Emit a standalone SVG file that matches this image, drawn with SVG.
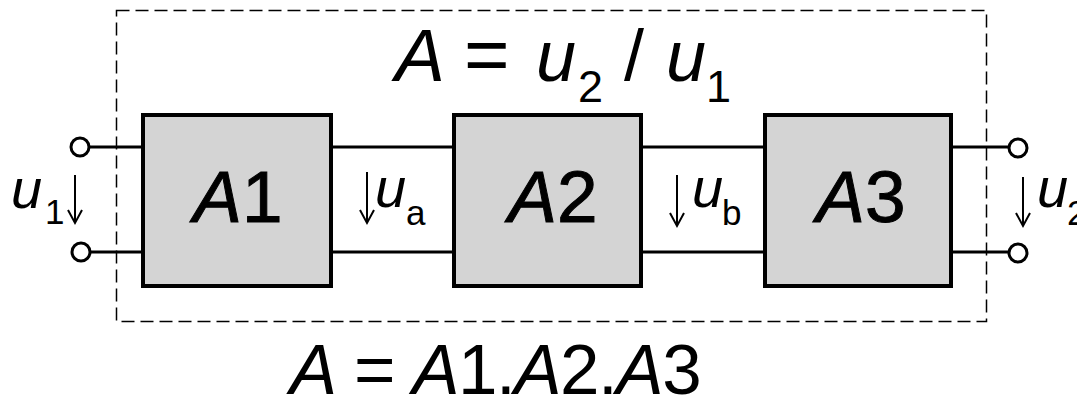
<svg xmlns="http://www.w3.org/2000/svg" width="1077" height="398" viewBox="0 0 1077 398">
<defs>
<style>
.t{font-family:"Liberation Sans",Arial,sans-serif;fill:#000}
.i{font-style:italic}
.blk{fill:#d4d4d4;stroke:#000;stroke-width:4}
.lbl{font-family:"Liberation Sans",Arial,sans-serif;font-size:73px;fill:#000;stroke:#000;stroke-width:1}
.w{stroke:#000;stroke-width:3;fill:none}
.term{fill:#fff;stroke:#000;stroke-width:3}
.arr{stroke:#000;stroke-width:2;fill:none}
</style>
</defs>
<rect width="1077" height="398" fill="#fff"/>
<rect id="boundary" x="116.5" y="10.5" width="870" height="311" fill="none" stroke="#000" stroke-width="1.5" stroke-dasharray="13 6"/>
<g id="connectors">
<line class="w" x1="89" y1="147" x2="143" y2="147"/>
<line class="w" x1="89" y1="252" x2="143" y2="252"/>
<line class="w" x1="331" y1="147" x2="454" y2="147"/>
<line class="w" x1="331" y1="252" x2="454" y2="252"/>
<line class="w" x1="641" y1="147" x2="765" y2="147"/>
<line class="w" x1="641" y1="252" x2="765" y2="252"/>
<line class="w" x1="951" y1="147" x2="1009" y2="147"/>
<line class="w" x1="951" y1="252" x2="1009" y2="252"/>
</g>
<g id="A1">
<rect class="blk" x="143" y="115" width="188" height="171"/>
<text class="lbl" x="238" y="222" text-anchor="middle"><tspan class="i">A</tspan>1</text>
</g>
<g id="A2">
<rect class="blk" x="454" y="115" width="187" height="171"/>
<text class="lbl" x="553" y="222" text-anchor="middle"><tspan class="i">A</tspan>2</text>
</g>
<g id="A3">
<rect class="blk" x="765" y="115" width="186" height="171"/>
<text class="lbl" x="861" y="222" text-anchor="middle"><tspan class="i">A</tspan>3</text>
</g>
<g id="in-terminals">
<circle class="term" cx="80" cy="147" r="9"/>
<circle class="term" cx="81" cy="252" r="9"/>
</g>
<g id="out-terminals">
<circle class="term" cx="1018" cy="148" r="9"/>
<circle class="term" cx="1018" cy="253" r="9"/>
</g>
<g id="voltages">
<path class="arr" d="M75 175V223M68 210L75 223L82 210"/>
<text class="t" font-size="56"><tspan class="i" x="11" y="208">u</tspan><tspan x="45" y="224" font-size="35">1</tspan></text>
<path class="arr" d="M367 172V223M360 210L367 223L374 210"/>
<text class="t" font-size="56"><tspan class="i" x="375" y="207">u</tspan><tspan x="406" y="225" font-size="35">a</tspan></text>
<path class="arr" d="M677 175V226M670 213L677 226L684 213"/>
<text class="t" font-size="56"><tspan class="i" x="692" y="207">u</tspan><tspan x="722" y="225" font-size="35">b</tspan></text>
<path class="arr" d="M1023 177V226M1016 213L1023 226L1030 213"/>
<text class="t" font-size="56"><tspan class="i" x="1037" y="207">u</tspan><tspan x="1067" y="225" font-size="35">2</tspan></text>
</g>
<g id="formula-top">
<text class="t" font-size="72"><tspan class="i" x="395" y="81" font-size="75">A</tspan><tspan x="464" y="81" font-size="78">=</tspan><tspan class="i" x="536" y="81">u</tspan><tspan x="578" y="102" font-size="45">2</tspan><tspan x="624" y="80">/</tspan><tspan class="i" x="666" y="81">u</tspan><tspan x="706" y="102" font-size="45">1</tspan></text>
</g>
<g id="formula-bottom">
<text class="t" font-size="71" letter-spacing="-1.5" x="495" y="394" text-anchor="middle"><tspan class="i">A</tspan> = <tspan class="i">A</tspan>1.<tspan class="i">A</tspan>2.<tspan class="i">A</tspan>3</text>
</g>
</svg>
